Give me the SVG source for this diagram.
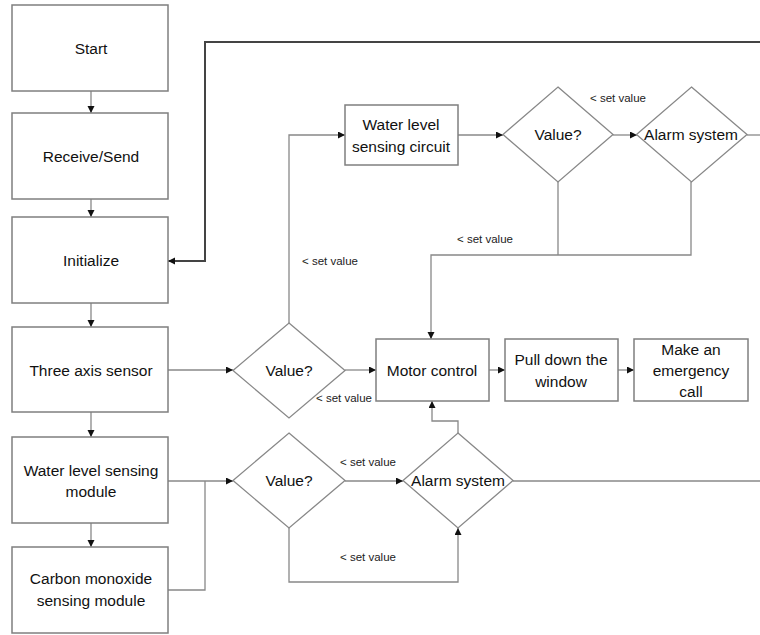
<svg xmlns="http://www.w3.org/2000/svg" width="760" height="635" viewBox="0 0 760 635">
<defs>
<marker id="arr" markerUnits="userSpaceOnUse" markerWidth="8" markerHeight="8" refX="7" refY="3.5" orient="auto">
<path d="M0,0 L7,3.5 L0,7 z" fill="#111"/>
</marker>
<style>
.box{fill:#fff;stroke:#7f7f7f;stroke-width:1.5}
.dia{fill:#fff;stroke:#888;stroke-width:1.3}
.t{font-family:"Liberation Sans",Arial,sans-serif;font-size:15.5px;fill:#111;text-anchor:middle;dominant-baseline:central}
.s{font-family:"Liberation Sans",Arial,sans-serif;font-size:11.5px;fill:#222}
.c{fill:none;stroke:#888;stroke-width:1.3}
.ca{fill:none;stroke:#888;stroke-width:1.3;marker-end:url(#arr)}
.loop{fill:none;stroke:#444;stroke-width:2}
</style>
</defs>
<rect width="760" height="635" fill="#fff"/>
<g id="connectors">
<path class="ca" d="M91,91 V113"/>
<path class="ca" d="M91,199 V217"/>
<path class="ca" d="M91,303 V327"/>
<path class="ca" d="M91,412 V437"/>
<path class="ca" d="M91,523 V547"/>
<path class="loop" d="M760,42 H205 V261 H168" marker-end="url(#arr)"/>
<path class="ca" d="M168,370 H233"/>
<path class="ca" d="M345,370 H376"/>
<path class="ca" d="M289,323 V135 H345"/>
<path class="ca" d="M458,135 H503"/>
<path class="ca" d="M613,135 H637"/>
<path class="c" d="M747,135 H760"/>
<path class="c" d="M558,182 V255"/>
<path class="ca" d="M691,182 V255 H431 V339"/>
<path class="ca" d="M489,370 H505"/>
<path class="ca" d="M618,370 H634"/>
<path class="ca" d="M168,481 H233"/>
<path class="c" d="M168,590 H205 V481"/>
<path class="ca" d="M345,481 H403"/>
<path class="ca" d="M289,528 V582 H458 V528"/>
<path class="c" d="M513,481 H760"/>
<path class="ca" d="M458,433 V421 H432 V401"/>
<text class="s" x="590" y="102">&lt; set value</text>
<text class="s" x="457" y="243">&lt; set value</text>
<text class="s" x="302" y="265">&lt; set value</text>
<text class="s" x="316" y="402">&lt; set value</text>
<text class="s" x="340" y="466">&lt; set value</text>
<text class="s" x="340" y="561">&lt; set value</text>
</g>
<g id="start"><rect class="box" x="12" y="5" width="156" height="86"/><text class="t" x="91" y="48">Start</text></g>
<g id="receive"><rect class="box" x="12" y="113" width="156" height="86"/><text class="t" x="91" y="156">Receive/Send</text></g>
<g id="initialize"><rect class="box" x="12" y="217" width="156" height="86"/><text class="t" x="91" y="260">Initialize</text></g>
<g id="three-axis"><rect class="box" x="12" y="327" width="156" height="85"/><text class="t" x="91" y="370">Three axis sensor</text></g>
<g id="water-module"><rect class="box" x="12" y="437" width="156" height="86"/><text class="t" x="91" y="470">Water level sensing</text><text class="t" x="91" y="491">module</text></g>
<g id="co-module"><rect class="box" x="12" y="547" width="156" height="86"/><text class="t" x="91" y="578">Carbon monoxide</text><text class="t" x="91" y="600">sensing module</text></g>
<g id="water-circuit"><rect class="box" x="345" y="105" width="113" height="60"/><text class="t" x="401" y="124">Water level</text><text class="t" x="401" y="146">sensing circuit</text></g>
<g id="value-top"><polygon class="dia" points="558,87 613,134.5 558,182 503,134.5"/><text class="t" x="558" y="134">Value?</text></g>
<g id="alarm-top"><polygon class="dia" points="691.5,87 747,134.5 691.5,182 636.5,134.5"/><text class="t" x="691" y="134">Alarm system</text></g>
<g id="value-mid"><polygon class="dia" points="289,323 345,370.5 289,418 233,370.5"/><text class="t" x="289" y="370">Value?</text></g>
<g id="motor"><rect class="box" x="376" y="339" width="113" height="62"/><text class="t" x="432" y="370">Motor control</text></g>
<g id="pull-down"><rect class="box" x="505" y="339" width="113" height="62"/><text class="t" x="561" y="359">Pull down the</text><text class="t" x="561" y="381">window</text></g>
<g id="emergency"><rect class="box" x="634" y="339" width="114" height="62"/><text class="t" x="691" y="349">Make an</text><text class="t" x="691" y="370">emergency</text><text class="t" x="691" y="391">call</text></g>
<g id="value-bottom"><polygon class="dia" points="289,433 345,480.5 289,528 233,480.5"/><text class="t" x="289" y="480">Value?</text></g>
<g id="alarm-bottom"><polygon class="dia" points="458,433 513,480.5 458,528 403,480.5"/><text class="t" x="458" y="480">Alarm system</text></g>
</svg>
